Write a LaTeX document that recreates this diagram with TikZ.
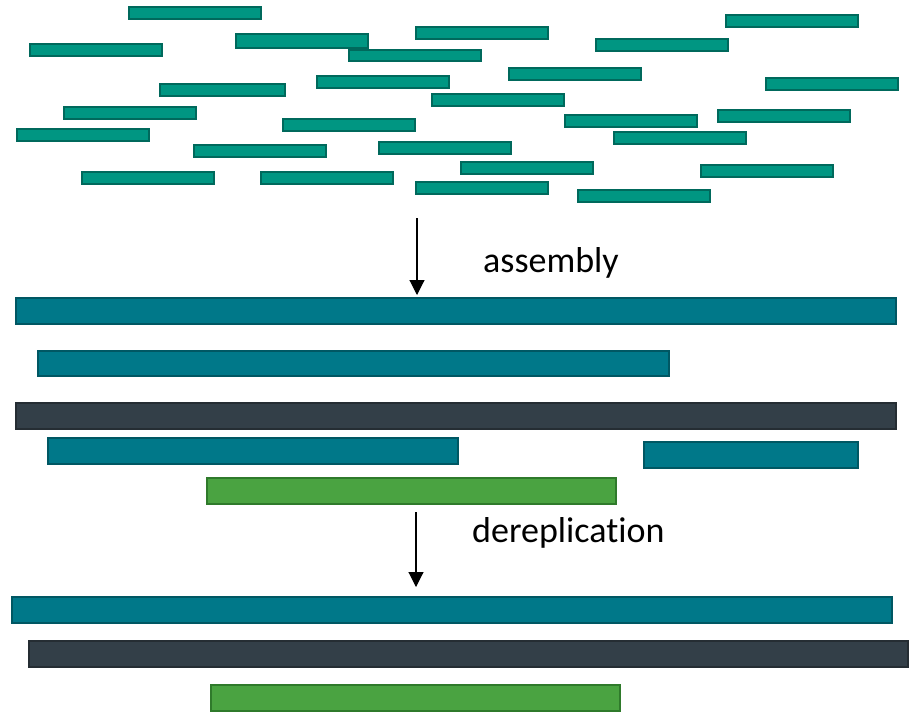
\documentclass[tikz,border=0pt]{standalone}
\usepackage{fontspec}
\setmainfont[Ligatures=NoCommon]{Carlito}
\usetikzlibrary{arrows.meta}
\definecolor{rdfill}{HTML}{009682}
\definecolor{rdline}{HTML}{00695C}
\definecolor{ctfill}{HTML}{007889}
\definecolor{ctline}{HTML}{005763}
\definecolor{dkfill}{HTML}{333F48}
\definecolor{dkline}{HTML}{252D33}
\definecolor{grfill}{HTML}{4AA341}
\definecolor{grline}{HTML}{2F7A2B}
\tikzset{
  barbase/.style={rectangle, inner sep=0pt, outer sep=0pt, anchor=north west},
  sread/.style={barbase, fill=rdfill, draw=rdline, line width=1.8pt, minimum width=132pt, minimum height=12pt},
  ctg/.style={barbase, fill=ctfill, draw=ctline, line width=2pt, minimum height=26pt},
  dkctg/.style={barbase, fill=dkfill, draw=dkline, line width=2pt, minimum height=26pt},
  grctg/.style={barbase, fill=grfill, draw=grline, line width=2pt, minimum height=26pt},
  arr/.style={line width=1.1pt, -{Triangle[length=15pt,width=15pt]}},
  lbl/.style={anchor=base west, inner sep=0pt, font=\fontsize{36}{40}\selectfont}
}
\begin{document}
\begin{tikzpicture}[x=1pt,y=-1pt]
\useasboundingbox (0,0) rectangle (913,716);
% short reads
\node[sread] (r1) at (129,7) {};
\node[sread] (r2) at (726,15) {};
\node[sread] (r3) at (416,27) {};
\node[sread, minimum height=14pt] (r4) at (236,34) {};
\node[sread] (r5) at (596,39) {};
\node[sread] (r6) at (30,44) {};
\node[sread, minimum height=11pt] (r7) at (349,50) {};
\node[sread] (r8) at (509,68) {};
\node[sread] (r9) at (317,76) {};
\node[sread] (r10) at (766,78) {};
\node[sread, minimum width=125pt] (r11) at (160,84) {};
\node[sread] (r12) at (432,94) {};
\node[sread] (r13) at (64,107) {};
\node[sread] (r14) at (718,110) {};
\node[sread] (r15) at (565,115) {};
\node[sread] (r16) at (283,119) {};
\node[sread] (r17) at (17,129) {};
\node[sread] (r18) at (614,132) {};
\node[sread] (r19) at (379,142) {};
\node[sread] (r20) at (194,145) {};
\node[sread] (r21) at (461,162) {};
\node[sread] (r22) at (701,165) {};
\node[sread] (r23) at (82,172) {};
\node[sread] (r24) at (261,172) {};
\node[sread] (r25) at (416,182) {};
\node[sread] (r26) at (578,190) {};
% contigs
\node[ctg, minimum width=880pt] (c1) at (16,298) {};
\node[ctg, minimum width=631pt, minimum height=25pt] (c2) at (38,351) {};
\node[dkctg, minimum width=880pt] (c3) at (16,403) {};
\node[ctg, minimum width=410pt] (c4) at (48,438) {};
\node[ctg, minimum width=214pt] (c5) at (644,442) {};
\node[grctg, minimum width=409pt] (c6) at (207,478) {};
% dereplicated
\node[ctg, minimum width=880pt] (d1) at (12,597) {};
\node[dkctg, minimum width=879pt] (d2) at (29,641) {};
\node[grctg, minimum width=409pt] (d3) at (211,685) {};
% arrows and labels
\coordinate (a1) at (417,218);
\coordinate (a2) at (417,295);
\draw[arr] (a1) -- (a2);
\node[lbl] (t1) at (483,272) {assembly};
\coordinate (b1) at (416,512);
\coordinate (b2) at (416,587);
\draw[arr] (b1) -- (b2);
\node[lbl] (t2) at (472,542) {dereplication};
\end{tikzpicture}
\end{document}
